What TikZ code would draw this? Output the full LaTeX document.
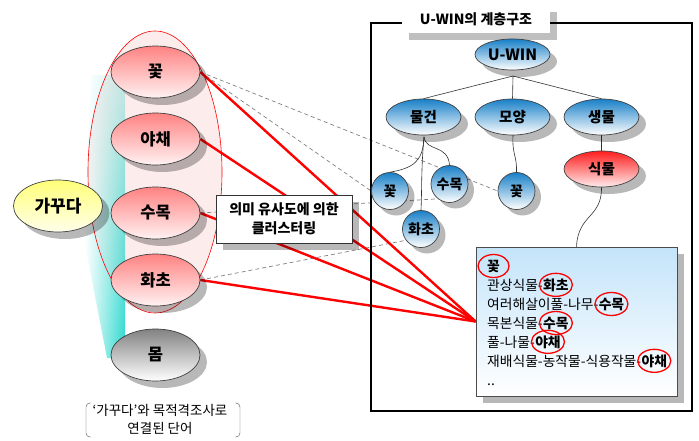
\documentclass[tikz,border=0pt]{standalone}
\usepackage{fontspec}
\setmainfont{Noto Sans CJK KR}
\usetikzlibrary{shapes.geometric,shadows,fadings}
\pgfdeclarelayer{back}
\pgfdeclarelayer{mid}
\pgfsetlayers{back,mid,main}
\definecolor{pinktop}{RGB}{255,130,130}
\definecolor{pinkbot}{RGB}{255,242,242}
\definecolor{bluetop}{RGB}{25,128,200}
\definecolor{redtop}{RGB}{255,30,30}
\definecolor{redbot}{RGB}{255,235,235}
\definecolor{tealc}{RGB}{40,215,205}
\definecolor{bigpink}{RGB}{253,236,236}
\definecolor{boxblue}{RGB}{196,228,250}
\definecolor{yellowtop}{RGB}{255,255,120}
\definecolor{yellowbot}{RGB}{255,255,235}
\definecolor{graytop}{RGB}{130,130,130}
\tikzfading[name=tealfade,top color=transparent!75,bottom color=transparent!0]
\begin{document}
\begin{tikzpicture}[x=1pt,y=-1pt,
  shad/.style={drop shadow={shadow xshift=7pt,shadow yshift=-7pt,fill=black,opacity=0.28}},
  shadsmall/.style={drop shadow={shadow xshift=6pt,shadow yshift=-6pt,fill=black,opacity=0.28}},
  pinkn/.style={ellipse,draw=black!75,line width=0.7pt,top color=pinktop,bottom color=pinkbot,
     minimum width=89,minimum height=52,inner sep=0,shad,font=\bfseries\fontsize{16.5}{18}\selectfont},
  grayn/.style={pinkn,top color=graytop,bottom color=white},
  yelln/.style={pinkn,top color=yellowtop,bottom color=yellowbot,font=\bfseries\fontsize{17}{19}\selectfont},
  bluen/.style={ellipse,draw=black!75,line width=0.7pt,top color=bluetop,bottom color=white,
     minimum width=75,minimum height=36,inner sep=0,shad,font=\bfseries\fontsize{14.5}{16}\selectfont},
  redn/.style={bluen,top color=redtop,bottom color=redbot},
  smalln/.style={circle,draw=black!75,line width=0.7pt,top color=bluetop,bottom color=white,
     minimum size=37,inner sep=0,shadsmall,font=\bfseries\fontsize{14}{16}\selectfont},
  dashl/.style={draw=gray,dash pattern=on 4pt off 3pt,line width=0.7pt},
  redl/.style={draw=red,line width=2.4pt},
  treel/.style={draw=black!80,line width=0.6pt},
  tx/.style={inner sep=0,font=\fontsize{13.8}{16}\selectfont},
  txb/.style={inner sep=0,font=\bfseries\fontsize{13.8}{16}\selectfont},
  circ/.style={draw=red,line width=1.3pt}
]
\useasboundingbox (0,0) rectangle (699,441);

% background group
\begin{pgfonlayer}{back}
  \fill[bigpink] (155,172) ellipse [x radius=67,y radius=141];
  \shade[left color=white,right color=tealc,path fading=tealfade] (92,75) -- (125,75) -- (125,358) -- (107,358) -- (84,240) -- (87,150) -- cycle;
  \draw[red,line width=0.6pt] (155,172) ellipse [x radius=67,y radius=141];
\end{pgfonlayer}

% left nodes
\node[pinkn] (p1) at (155.5,72) {꽃};
\node[pinkn] (p2) at (155.5,139) {야채};
\node[pinkn] (p3) at (155.5,213) {수목};
\node[pinkn] (p4) at (155.5,280) {화초};
\node[grayn] (p5) at (155.5,355) {몸};
\node[yelln] (gg) at (58,206) {가꾸다};

\node[align=center,inner sep=0,font=\fontsize{13.5}{18}\selectfont] (bt) at (160,419) {‘가꾸다’와 목적격조사로\\연결된 단어};
\draw[black!70,rounded corners=4pt] (91,403) -- (86,403) -- (86,437) -- (91,437);
\draw[black!70,rounded corners=4pt] (235,403) -- (240,403) -- (240,437) -- (235,437);

% cluster box
\node[draw=black!80,fill=white,line width=0.7pt,minimum width=136,minimum height=48,inner sep=0,
  align=center,shad,font=\bfseries\fontsize{14}{19}\selectfont] (cl) at (284,219) {의미 유사도에 의한\\클러스터링};

% frame and title
\node[draw=black,line width=1.1pt,minimum width=321,minimum height=388,inner sep=0] (frame) at (531.5,217) {};
\node[fill=white,minimum width=148,minimum height=28,inner sep=0,
  drop shadow={shadow xshift=7pt,shadow yshift=-7pt,fill=black,opacity=0.25},
  font=\bfseries\fontsize{14}{16}\selectfont] (title) at (476,19) {U-WIN의 계층구조};

% tree
\node[bluen,minimum width=75,minimum height=31,font=\bfseries\fontsize{15.5}{17}\selectfont] (uw) at (512.5,54.5) {U-WIN};
\node[bluen] (mg) at (423.5,117) {물건};
\node[bluen] (my) at (512.5,117) {모양};
\node[bluen] (sm) at (601.5,117) {생물};
\node[redn] (sk) at (601.5,169) {식물};
\node[smalln] (c1) at (390,191) {꽃};
\node[smalln] (c2) at (449.5,184) {수목};
\node[smalln] (c3) at (421,229) {화초};
\node[smalln] (c4) at (516.5,191) {꽃};

% text box
\node[draw=black!70,line width=0.7pt,top color=boxblue,bottom color=white,
  minimum width=201,minimum height=149,inner sep=0,shad] (tb) at (576.5,321.5) {};

\node[txb,anchor=base west] (w1) at (487,271) {꽃};
\node[tx,anchor=base west] (l2) at (487,290) {관상식물-};
\node[txb,anchor=base west] (w2) at (l2.base east) {화초};
\node[tx,anchor=base west] (l3) at (487,309) {여러해살이풀-나무-};
\node[txb,anchor=base west] (w3) at (l3.base east) {수목};
\node[tx,anchor=base west] (l4) at (487,328) {목본식물-};
\node[txb,anchor=base west] (w4) at (l4.base east) {수목};
\node[tx,anchor=base west] (l5) at (487,347) {풀-나물-};
\node[txb,anchor=base west] (w5) at (l5.base east) {야채};
\node[tx,anchor=base west] (l6) at (487,366) {재배식물-농작물-식용작물-};
\node[txb,anchor=base west] (w6) at (l6.base east) {야채};
\node[tx,anchor=base west] (l7) at (487,385) {..};

\draw[circ] (w1.center) ellipse [x radius=15.5,y radius=11.5];
\foreach \w in {w2,w3,w4,w5,w6}
  \draw[circ] (\w.center) ellipse [x radius=16.5,y radius=11.5];

% connectors
\coordinate (uj) at (513,76);
\coordinate (mj) at (424,137);
\coordinate (yj) at (513,135);
\begin{pgfonlayer}{mid}
  \draw[dashl] (p1.east) -- (c1.west);
  \draw[dashl] (p1.east) -- (c4.west);
  \draw[dashl] (p3.east) -- (c2.-45);
  \draw[dashl] (p4.east) -- (c3.-15);
  \foreach \p in {p1,p2,p3,p4}
    \draw[redl] (\p.east) -- (tb.west);
  \draw[treel] (uj) -- (mg.north);
  \draw[treel] (uj) -- (my.north);
  \draw[treel] (uj) -- (sm.north);
  \draw[treel] (mj) .. controls (423,160) and (415,168) .. (c1.north);
  \draw[treel] (mj) .. controls (426,152) and (448,144) .. (c2.north);
  \draw[treel] (mj) .. controls (421,170) and (422,190) .. (c3.north);
  \draw[treel] (yj) .. controls (512,155) and (517,155) .. (c4.north);
  \draw[treel] (sm.south) -- (sk.north);
  \draw[treel] (sk.south) .. controls (602,218) and (578,214) .. (tb.north);
\end{pgfonlayer}
\end{tikzpicture}
\end{document}
